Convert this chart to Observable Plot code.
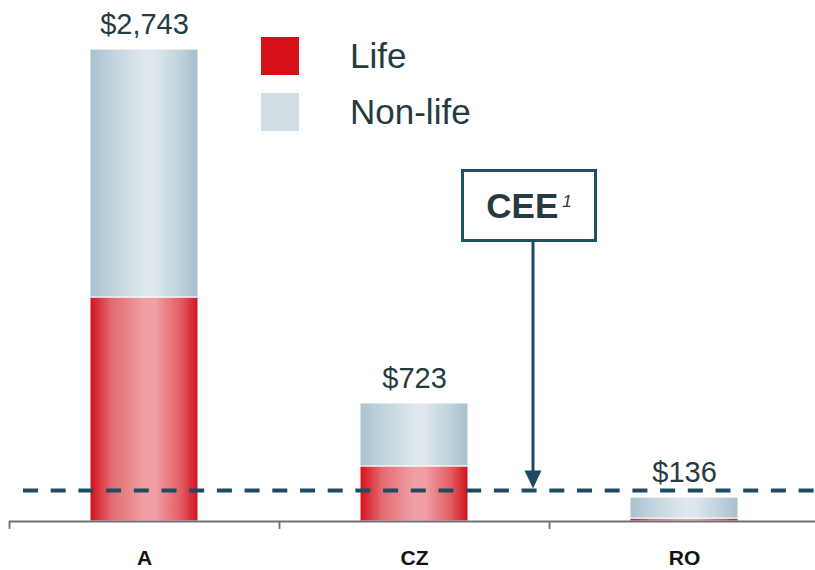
<!DOCTYPE html>
<html>
<head>
<meta charset="utf-8">
<script src="https://cdn.jsdelivr.net/npm/d3@7"></script>
<script src="https://cdn.jsdelivr.net/npm/@observablehq/plot@0.6"></script>
<style>
  html, body { margin: 0; padding: 0; background: #fff; }
  #wrap { position: relative; width: 815px; height: 570px; font-family: "Liberation Sans", Arial, sans-serif; }
  #wrap svg { position: absolute; left: 0; top: 0; overflow: visible; }
  .leg { position: absolute; display: flex; align-items: center; color: #263a42; font-size: 35px; }
  .sw { width: 38px; height: 38px; margin-right: 51px; }
  #cee { position: absolute; left: 461px; top: 169px; width: 136px; height: 73px; box-sizing: border-box;
         border: 3.5px solid #1f4f64; background: #fff; display: flex; align-items: center; justify-content: center;
         color: #263a42; font-weight: bold; font-size: 35px; }
  #cee sup { font-weight: normal; font-style: italic; font-size: 17px; position: relative; top: -4px; margin-left: 4px; }
</style>
</head>
<body>
<div id="wrap"></div>
<script>
const categories = ["A", "CZ", "RO"];
const life = [1302, 320, 17];
const nonLife = [1441, 366, 122];
const totalLabels = ["$2,743", "$723", "$136"];
const ceeValue = 180;
const ceeArrowTop = 1625;
const legendLabels = ["Life", "Non-life"];
const legendColors = ["#d7101a", "#d1dee4"];

const rows = categories.map((c, i) => ({cat: c, life: life[i], nonLife: nonLife[i], total: life[i] + nonLife[i], label: totalLabels[i]}));

const defs = () => {
  const d = d3.create("svg:defs");
  const mk = (id, stops) => {
    const g = d.append("linearGradient").attr("id", id).attr("x1", "0").attr("x2", "1").attr("y1", "0").attr("y2", "0");
    stops.forEach(([o, c]) => g.append("stop").attr("offset", o).attr("stop-color", c));
  };
  mk("gLife", [[0, "#d4101a"], [0.2, "#e36a70"], [0.5, "#f0a0a5"], [0.6, "#f0a0a5"], [0.85, "#e05a60"], [1, "#d4101a"]]);
  mk("gNon", [[0, "#a8c2ce"], [0.2, "#c0d3dc"], [0.5, "#dde7ed"], [0.6, "#dde7ed"], [0.85, "#bcd0da"], [1, "#a5bfcb"]]);
  return d.node();
};

// arrowhead pointing down, tip at the origin
const arrowHead = {
  draw(context) {
    context.moveTo(-8.5, -18);
    context.lineTo(8.5, -18);
    context.lineTo(0, 0);
    context.closePath();
  }
};

const ink = "#263a42";
const teal = "#1e4b5e";

const chart = Plot.plot({
  width: 815,
  height: 570,
  marginTop: 0,
  marginBottom: 49,
  marginLeft: 9,
  marginRight: 0,
  style: {fontFamily: "'Liberation Sans', Arial, sans-serif", background: "transparent", overflow: "visible"},
  x: {domain: categories, range: [9, 819], paddingInner: 0.6, paddingOuter: 0.3, axis: null},
  y: {domain: [0, 3028], axis: null},
  marks: [
    defs,
    Plot.barY(rows, {x: "cat", y1: 0, y2: "life", fill: "url(#gLife)", stroke: "#fff", strokeWidth: 1}),
    Plot.barY(rows, {x: "cat", y1: "life", y2: "total", fill: "url(#gNon)", stroke: "#fff", strokeWidth: 1}),
    Plot.ruleY([0], {stroke: "#707070", strokeWidth: 1.8}),
    Plot.ruleX(categories, {x: d => d, dx: -135, y1: 0, y2: -46, stroke: "#707070", strokeWidth: 1.8}),
    Plot.text(categories, {x: d => d, y: 0, dy: 36.5, text: d => d, fontWeight: "bold", fontSize: 21, fill: "#111"}),
    Plot.ruleY([ceeValue], {stroke: teal, strokeWidth: 4, strokeDasharray: "15,12.7", insetLeft: 14}),
    Plot.ruleX([ceeValue], {x: () => "CZ", dx: 118.5, y1: () => ceeArrowTop, y2: d => d, insetBottom: 16, stroke: teal, strokeWidth: 3}),
    Plot.dot([ceeValue], {x: () => "CZ", dx: 118.5, y: d => d, dy: -2, symbol: arrowHead, r: 6, fill: teal, stroke: "none"}),
    Plot.text(rows, {x: "cat", y: "total", dy: -25, text: "label", fontSize: 29, fill: ink, lineAnchor: "middle"})
  ]
});

const wrap = document.getElementById("wrap");
wrap.appendChild(chart);

legendLabels.forEach((l, i) => {
  const div = document.createElement("div");
  div.className = "leg";
  div.style.left = "261px";
  div.style.top = (37 + i * 56) + "px";
  div.style.height = "38px";
  div.innerHTML = `<div class="sw" style="background:${legendColors[i]}"></div><span>${l}</span>`;
  wrap.appendChild(div);
});

const box = document.createElement("div");
box.id = "cee";
box.innerHTML = `CEE<sup>1</sup>`;
wrap.appendChild(box);
</script>
</body>
</html>
